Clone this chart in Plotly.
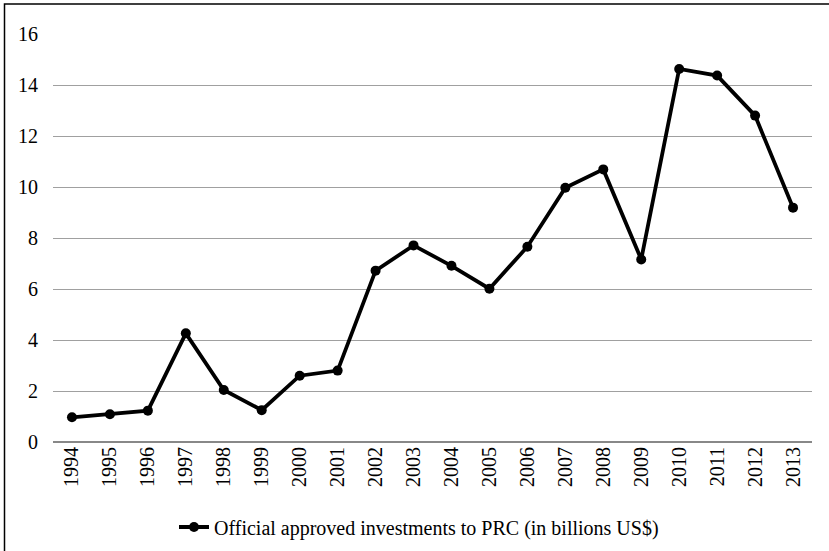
import plotly.graph_objects as go

years = ["1994", "1995", "1996", "1997", "1998", "1999", "2000", "2001", "2002", "2003",
         "2004", "2005", "2006", "2007", "2008", "2009", "2010", "2011", "2012", "2013"]
investments = [0.97, 1.09, 1.23, 4.26, 2.04, 1.25, 2.60, 2.80, 6.72, 7.71,
               6.91, 6.01, 7.66, 9.97, 10.69, 7.16, 14.63, 14.37, 12.80, 9.19]
series_name = "Official approved investments to PRC (in billions US$)"
y_ticks = [0, 2, 4, 6, 8, 10, 12, 14, 16]

W, H = 829, 551
L, R, T, B = 53, 17, 33.5, 109
pw, ph = W - L - R, H - T - B
FONT = "'Liberation Serif', 'Times New Roman', Times, serif"

fig = go.Figure()
fig.add_trace(go.Scatter(
    x=years, y=investments, mode="lines+markers", name=series_name,
    line=dict(color="black", width=3.8),
    marker=dict(color="black", size=10, symbol="circle"),
))

bx = (4.5 - L) / pw
by = (H - B - 3.5) / ph
fig.add_shape(type="path", xref="paper", yref="paper",
              path=f"M {bx} -0.5 L {bx} {by} L 1.1 {by}",
              line=dict(color="black", width=1.5))

fig.update_layout(
    width=W, height=H,
    margin=dict(l=L, r=R, t=T, b=B, autoexpand=False),
    paper_bgcolor="white", plot_bgcolor="white",
    font=dict(family=FONT, size=20, color="black"),
    showlegend=True,
    legend=dict(orientation="h", xref="container", yref="container",
                x=174 / W, xanchor="left",
                y=1 - 527 / H, yanchor="middle",
                font=dict(family=FONT, size=20), itemwidth=30, bgcolor="rgba(0,0,0,0)"),
    xaxis=dict(type="category", tickangle=-90, showgrid=False, showline=False,
               ticks="", tickfont=dict(family=FONT, size=20), range=[-0.5, 19.5],
               automargin=False),
    yaxis=dict(range=[0, 16], tickvals=y_ticks, showgrid=True, gridcolor="#a0a0a0",
               gridwidth=1, zeroline=True, zerolinecolor="#888888", zerolinewidth=1.5,
               showline=False, ticks="", ticklen=0, tickfont=dict(family=FONT, size=20),
               automargin=False),
)
fig.update_yaxes(ticklabelstandoff=14)
fig.write_html("out.html", config={"displayModeBar": False},
               post_script="document.body.style.margin='0';document.body.style.overflow='hidden';")
